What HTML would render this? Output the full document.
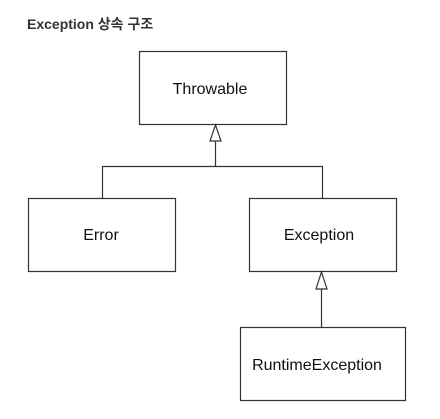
<!DOCTYPE html>
<html><head><meta charset="utf-8"><style>
body{margin:0;background:#fff;width:440px;height:414px;overflow:hidden}
</style></head><body>
<svg width="440" height="414" xmlns="http://www.w3.org/2000/svg">
<text x="27" y="29" font-family="'Liberation Sans','Noto Sans CJK KR',sans-serif" font-size="14" font-weight="bold" fill="#333">Exception 상속 구조</text>
<g fill="#fff" stroke="#333" stroke-width="1.2">
<rect x="139.5" y="51.5" width="147" height="73"/>
<rect x="28.5" y="198.5" width="147" height="73"/>
<rect x="249.5" y="198.5" width="147" height="73"/>
<rect x="240.5" y="327.5" width="165" height="73"/>
</g>
<g stroke="#333" stroke-width="1.2" fill="none">
<polyline points="102.5,198 102.5,166.5 322.5,166.5 322.5,198"/>
<line x1="215.5" y1="141" x2="215.5" y2="166"/>
<line x1="321.5" y1="289" x2="321.5" y2="327"/>
</g>
<g fill="#fff" stroke="#333" stroke-width="1.2">
<polygon points="215.5,125 221,141 210,141"/>
<polygon points="321.5,272 327,289 316,289"/>
</g>
<g font-family="'Liberation Sans',sans-serif" font-size="16" fill="#111" text-anchor="middle">
<text x="210" y="94">Throwable</text>
<text x="101" y="240">Error</text>
<text x="319" y="240">Exception</text>
<text x="317" y="370">RuntimeException</text>
</g>
</svg>
</body></html>
